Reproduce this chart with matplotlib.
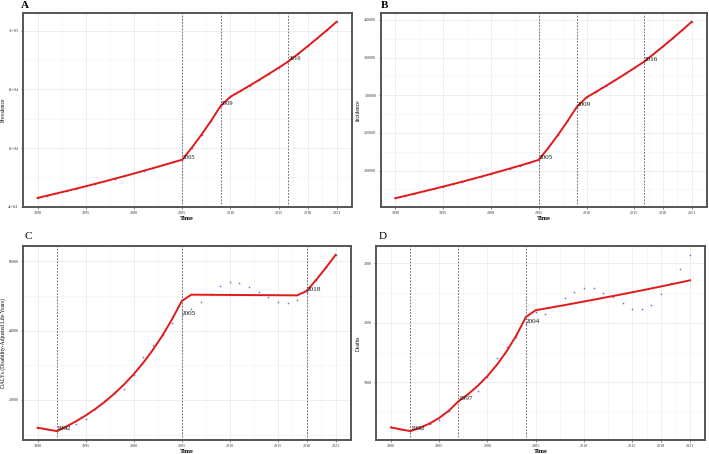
import matplotlib.pyplot as plt
import numpy as np

plt.rcParams['font.family'] = ['Liberation Serif', 'DejaVu Serif']

years = list(range(1990, 2022))
xticks = [1990, 1995, 2000, 2005, 2010, 2015, 2018, 2021]

# A - prevalence (observed ~ fitted)
prev_fit = [43050, 43820, 44600, 45390, 46200, 47020, 47860, 48710, 49580, 50460,
            51360, 52280, 53210, 54160, 55120, 56070, 60190, 64620, 69370, 74470,
            77500, 79380, 81310, 83290, 85310, 87380, 89500, 92050, 94670, 97370,
            100150, 103000]
prev_obs = prev_fit
prev_joins = [2005, 2009, 2016]

# B - incidence
inc_fit = [163300, 166300, 169300, 172400, 175500, 178700, 181900, 185200, 188600, 192000,
           195500, 199100, 202700, 206400, 210200, 214200, 230000, 247000, 265300, 284800,
           297100, 304500, 312100, 319900, 327900, 336000, 344400, 354400, 364700, 375300,
           386200, 397400]
inc_obs = inc_fit
inc_joins = [2005, 2009, 2016]

# C - DALYs
daly_fit = [12000, 11500, 11020, 12350, 13850, 15520, 17400, 19500, 21860, 24500,
            27460, 30780, 34500, 38670, 43350, 48600, 50400, 50380, 50360, 50340,
            50320, 50300, 50290, 50270, 50260, 50240, 50220, 50200, 51500, 54750,
            58200, 61900]
daly_obs = [11900, 11500, 11100, 11800, 13150, 14450, 17300, 19900, 22250, 23150,
            27200, 32550, 36000, 38750, 42300, 44230, 46300, 48200, 50650, 52950,
            54100, 53900, 52660, 51300, 49700, 48150, 47970, 48920, 51300, 54500,
            58300, 61870]
daly_joins = [1992, 2005, 2018]

# D - deaths
death_fit = [244, 212, 182, 237, 309, 403, 525, 684, 803, 943,
             1107, 1299, 1525, 1790, 2100, 2212, 2240, 2269, 2298, 2328,
             2358, 2388, 2419, 2450, 2481, 2513, 2545, 2578, 2611, 2645,
             2679, 2714]
death_obs = [244, 215, 190, 230, 300, 375, 528, 690, 800, 863,
             1086, 1403, 1590, 1768, 1975, 2190, 2145, 2275, 2420, 2520,
             2588, 2577, 2495, 2432, 2340, 2240, 2235, 2300, 2480, 2674,
             2908, 3142]
death_joins = [1992, 1997, 2004]

W, H = 709, 454
fig = plt.figure(figsize=(W / 100, H / 100), dpi=100)


def px_axes(x0, x1, y0, y1):
    return fig.add_axes([x0 / W, 1 - y1 / H, (x1 - x0) / W, (y1 - y0) / H])


def panel(ax, fit, obs, joins, ylabel, yticks, yticklabels, ylim, lab_size):
    x = np.array(years)
    ax.set_xlim(1990 - 1.55, 2021 + 1.55)
    ax.set_xticks(xticks)
    ax.set_xticklabels([str(t) for t in xticks])
    ax.set_xticks([1992.5, 1997.5, 2002.5, 2007.5, 2012.5, 2016.5, 2019.5], minor=True)
    ax.set_yticks(yticks)
    ax.set_yticklabels(yticklabels)
    step = yticks[1] - yticks[0]
    ax.set_yticks([t - step / 2 for t in yticks] + [yticks[-1] + step / 2], minor=True)
    ax.set_ylim(*ylim)
    ax.grid(which='major', color='#ebebeb', linewidth=0.6)
    ax.grid(which='minor', color='#f2f2f2', linewidth=0.4)
    ax.set_axisbelow(True)
    for s in ax.spines.values():
        s.set_color('#555555')
        s.set_linewidth(1.4)
    ax.tick_params(which='major', labelsize=3, length=1.5, width=0.5,
                   color='#555555', labelcolor='#333333', pad=1.5)
    ax.tick_params(which='minor', length=0)
    ax.scatter(x, obs, s=1.5, color='#7a6fe0', zorder=2, linewidths=0)
    ax.plot(x, fit, color='#e01a1a', linewidth=1.4, zorder=3)
    for j in joins:
        ax.axvline(j, color='#555555', linestyle=(0, (2, 1.8)), linewidth=0.6, zorder=1)
        ax.text(j, obs[years.index(j)], str(j), ha='left', va='bottom',
                fontsize=lab_size, color='#111111', zorder=4)
    ax.set_xlabel('Time', fontsize=4.5, fontweight='bold', labelpad=0.5)
    ax.set_ylabel(ylabel, fontsize=4, labelpad=2)


axA = px_axes(22.7, 351.5, 13, 207)
panel(axA, prev_fit, prev_obs, prev_joins, 'Prevalence',
      [40000, 60000, 80000, 100000], ['4e+04', '6e+04', '8e+04', '1e+05'],
      (39950, 106000), 4.5)

axB = px_axes(380.5, 706.5, 13, 207)
panel(axB, inc_fit, inc_obs, inc_joins, 'Incidence',
      [200000, 250000, 300000, 350000, 400000],
      ['200000', '250000', '300000', '350000', '400000'],
      (151600, 409100), 5.2)

axC = px_axes(22.7, 350.5, 246, 440)
panel(axC, daly_fit, daly_obs, daly_joins, 'DALYs (Disability-Adjusted Life Years)',
      [20000, 40000, 60000], ['20000', '40000', '60000'],
      (8450, 64450), 5.2)

axD = px_axes(376, 705, 246, 440)
panel(axD, death_fit, death_obs, death_joins, 'Deaths',
      [1000, 2000, 3000], ['1000', '2000', '3000'],
      (33, 3290), 5.2)

# panel letters, positioned in pixels from the top-left corner
for lab, px, py, bold in [('A', 21, 1, True), ('B', 381, 1, True),
                          ('C', 24, 232, False), ('D', 379, 232, False)]:
    fig.text(px / W, 1 - py / H, lab, fontsize=8,
             fontweight='bold' if bold else 'normal', ha='left', va='top')

fig.savefig('out.png', dpi=100)
